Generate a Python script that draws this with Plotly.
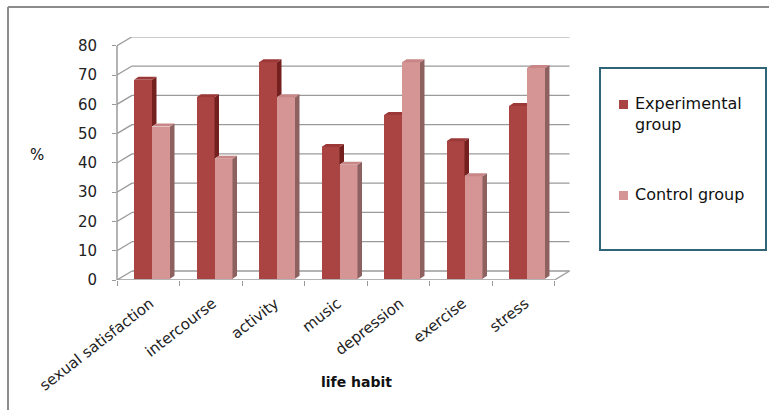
import plotly.graph_objects as go

# ---------------- data ----------------
categories = ["sexual satisfaction", "intercourse", "activity", "music",
              "depression", "exercise", "stress"]
experimental = [68, 62, 74, 45, 56, 47, 59]
control = [52, 41, 62, 39, 74, 35, 72]
series_names = ["Experimental group", "Control group"]
y_ticks = [0, 10, 20, 30, 40, 50, 60, 70, 80]
x_title = "life habit"
y_title = "%"

# ---------------- geometry / style ----------------
W, H = 769, 410
ML, MR, MT, MB = 117, 199, 37, 130
PX_PER_CAT = 62.5
PLOT_W = W - ML - MR
PLOT_H = H - MT - MB
X_RANGE = [-0.5, -0.5 + PLOT_W / PX_PER_CAT]
Y_RANGE = [0, 83]
PX_PER_UNIT = PLOT_H / (Y_RANGE[1] - Y_RANGE[0])

WALL_DX = 15 / PX_PER_CAT        # back wall depth offset (x units)
WALL_DY = 9 / PX_PER_UNIT        # back wall depth offset (y units)
BAR_DX = 4.5 / PX_PER_CAT        # bar depth offset
BAR_DY = 3 / PX_PER_UNIT
BAR_BASE = 0.4                   # bars sit slightly back in depth
BAR_W = 0.288
EXP_OFF = -0.084
CON_OFF = 0.204

EXP_FRONT, EXP_TOP, EXP_SIDE = "#A94443", "#9C3938", "#74201F"
CON_FRONT, CON_TOP, CON_SIDE = "#D59594", "#C88786", "#8E6161"
GRID = "#9a9a9a"
FONT = "DejaVu Sans"


def px_x(px):
    return (px - ML) / PLOT_W


def px_y(py):
    return (H - MB - py) / PLOT_H


n = len(categories)
idx = list(range(n))
x_exp = [i + EXP_OFF for i in idx]
x_con = [i + CON_OFF for i in idx]

fig = go.Figure()

# front faces
fig.add_trace(go.Bar(x=x_exp, y=experimental, base=BAR_BASE, width=BAR_W,
                     marker_color=EXP_FRONT, marker_line_width=0,
                     name=series_names[0], showlegend=False))
fig.add_trace(go.Bar(x=x_con, y=control, base=BAR_BASE, width=BAR_W,
                     marker_color=CON_FRONT, marker_line_width=0,
                     name=series_names[1], showlegend=False))


def faces(xs, vals, others=None):
    side_x, side_y, top_x, top_y = [], [], [], []
    for j, (xc, val) in enumerate(zip(xs, vals)):
        v = val + BAR_BASE
        x0, x1 = xc - BAR_W / 2, xc + BAR_W / 2
        lo = BAR_BASE
        top_right = x1 + BAR_DX
        if others is not None:
            o = others[j] + BAR_BASE
            if v <= o:
                top_right = x1
                lo = None
            else:
                lo = o
        if lo is not None:
            side_x += [x1, x1 + BAR_DX, x1 + BAR_DX, x1, x1, None]
            side_y += [lo, lo + BAR_DY, v + BAR_DY, v, lo, None]
        top_x += [x0, x0 + BAR_DX, top_right, x1, x0, None]
        top_y += [v, v + BAR_DY, v + BAR_DY, v, v, None]
    return side_x, side_y, top_x, top_y


for xs, vals, others, cs, ct in [(x_exp, experimental, control, EXP_SIDE, EXP_TOP),
                                 (x_con, control, None, CON_SIDE, CON_TOP)]:
    sx, sy, tx, ty = faces(xs, vals, others)
    fig.add_trace(go.Scatter(x=sx, y=sy, mode="lines", fill="toself", fillcolor=cs,
                             line=dict(width=0, color=cs), showlegend=False,
                             hoverinfo="skip"))
    fig.add_trace(go.Scatter(x=tx, y=ty, mode="lines", fill="toself", fillcolor=ct,
                             line=dict(width=0, color=ct), showlegend=False,
                             hoverinfo="skip"))

shapes = []
xl = X_RANGE[0]
xr = n - 0.5
# back wall gridlines with left-side diagonals
for v in y_ticks:
    shapes.append(dict(type="line", xref="x", yref="y", x0=xl, y0=v,
                       x1=xl + WALL_DX, y1=v + WALL_DY,
                       line=dict(color=GRID, width=1.3), layer="below"))
    shapes.append(dict(type="line", xref="x", yref="y", x0=xl + WALL_DX, y0=v + WALL_DY,
                       x1=xr + WALL_DX, y1=v + WALL_DY,
                       line=dict(color=GRID, width=1.3), layer="below"))
# floor front edge and right diagonal
shapes.append(dict(type="line", xref="x", yref="y", x0=xl, y0=0, x1=xr, y1=0,
                   line=dict(color=GRID, width=1.5), layer="below"))
shapes.append(dict(type="line", xref="x", yref="y", x0=xr, y0=0, x1=xr + WALL_DX,
                   y1=WALL_DY, line=dict(color=GRID, width=1.3), layer="below"))
# front value axis line
shapes.append(dict(type="line", xref="paper", yref="y", x0=0, y0=0, x1=0, y1=y_ticks[-1],
                   line=dict(color=GRID, width=1.5)))

# outer chart border (top + left)
shapes.append(dict(type="line", xref="paper", yref="paper", x0=px_x(8), y0=px_y(7),
                   x1=px_x(769), y1=px_y(7), line=dict(color="#8c8c8c", width=2)))
shapes.append(dict(type="line", xref="paper", yref="paper", x0=px_x(8), y0=px_y(7),
                   x1=px_x(8), y1=px_y(411), line=dict(color="#8c8c8c", width=2)))

# legend box
shapes.append(dict(type="rect", xref="paper", yref="paper", x0=px_x(600), y0=px_y(68),
                   x1=px_x(766), y1=px_y(250), line=dict(color="#2F6577", width=2),
                   fillcolor="white"))
shapes.append(dict(type="rect", xref="paper", yref="paper", x0=px_x(619), y0=px_y(100),
                   x1=px_x(628), y1=px_y(109), line=dict(width=0), fillcolor=EXP_FRONT))
shapes.append(dict(type="rect", xref="paper", yref="paper", x0=px_x(619), y0=px_y(191),
                   x1=px_x(628), y1=px_y(200), line=dict(width=0), fillcolor=CON_FRONT))

annotations = [
    dict(text="Experimental<br>group", xref="paper", yref="paper", x=px_x(633),
         y=px_y(114), xanchor="left", yanchor="middle", align="left", showarrow=False,
         font=dict(family=FONT, size=16, color="#111")),
    dict(text=series_names[1], xref="paper", yref="paper", x=px_x(633), y=px_y(195),
         xanchor="left", yanchor="middle", align="left", showarrow=False,
         font=dict(family=FONT, size=16, color="#111")),
    dict(text=y_title, xref="paper", yref="paper", x=px_x(37), y=px_y(155),
         xanchor="center", yanchor="middle", showarrow=False,
         font=dict(family=FONT, size=15, color="#111")),
    dict(text="<b>" + x_title + "</b>", xref="paper", yref="paper", x=px_x(356),
         y=px_y(382), xanchor="center", yanchor="middle", showarrow=False,
         font=dict(family=FONT, size=14, color="#111")),
]

fig.update_layout(
    width=W, height=H,
    margin=dict(l=ML, r=MR, t=MT, b=MB, pad=0, autoexpand=False),
    paper_bgcolor="white", plot_bgcolor="rgba(0,0,0,0)",
    barmode="overlay", bargap=0,
    shapes=shapes, annotations=annotations, showlegend=False,
    xaxis=dict(range=X_RANGE, tickmode="array", tickvals=idx, ticktext=categories,
               tickangle=-38, ticks="outside", ticklen=0, showgrid=False,
               zeroline=False, showline=False, ticklabelshift=2,
               ticklabelstandoff=8, automargin=False,
               tickfont=dict(family=FONT, size=15, color="#222"),
               minor=dict(tickmode="array", tickvals=[i - 0.5 for i in range(n + 1)],
                          ticks="outside", ticklen=5, tickcolor=GRID, tickwidth=1.3,
                          showgrid=False)),
    yaxis=dict(range=Y_RANGE, tickmode="array", tickvals=y_ticks,
               ticks="outside", ticklen=4, tickcolor=GRID, tickwidth=1.3,
               showgrid=False, zeroline=False, showline=False,
               ticklabelstandoff=12, automargin=False,
               tickfont=dict(family=FONT, size=15, color="#222")),
)

fig.write_html("out.html")
